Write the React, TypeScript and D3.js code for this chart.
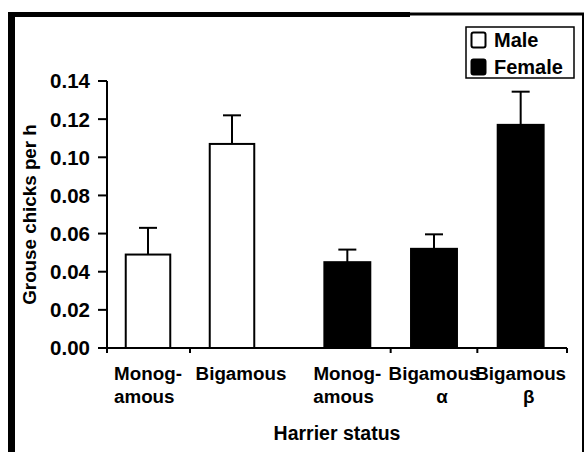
import React from 'react';
import * as d3 from 'd3';

const maleLabels: string[][] = [['Monog-', 'amous'], ['Bigamous']];
const maleValues = [0.049, 0.107];
const maleErrors = [0.014, 0.015];

const femaleLabels: string[][] = [['Monog-', 'amous'], ['Bigamous', 'α'], ['Bigamous', 'β']];
const femaleValues = [0.045, 0.052, 0.117];
const femaleErrors = [0.0066, 0.0076, 0.0174];

const yTicks = [0, 0.02, 0.04, 0.06, 0.08, 0.1, 0.12, 0.14];
const legendItems = ['Male', 'Female'];

const FONT = '"Liberation Sans", Arial, Helvetica, sans-serif';

export default function App() {
  const W = 585, H = 452;
  const axisLeft = 107, axisRight = 567, axisTop = 81, axisBottom = 348;
  const y = d3.scaleLinear().domain([0, 0.14]).range([axisBottom, axisTop]);

  const mkBand = (n: number, r: [number, number]) =>
    d3.scaleBand<number>().domain(d3.range(n)).range(r).paddingInner(0.47).paddingOuter(0.235);
  const xMale = mkBand(maleValues.length, [106, 274]);
  const xFemale = mkBand(femaleValues.length, [304, 564]);

  const groups = [
    { scale: xMale, values: maleValues, errors: maleErrors, labels: maleLabels, fill: '#fff' },
    { scale: xFemale, values: femaleValues, errors: femaleErrors, labels: femaleLabels, fill: '#000' },
  ];

  const xTicks: number[] = [axisLeft, axisRight];
  groups.forEach(g => {
    const step = g.scale.step();
    g.values.forEach((_, i) => {
      if (i > 0) xTicks.push((g.scale(i) as number) - step * 0.47 / 2);
    });
  });

  return (
    <svg width={W} height={H} style={{ position: 'absolute', left: 0, top: 0, background: '#fff' }}
      fontFamily={FONT} fontWeight="bold" fontSize={18.8}>
      <rect x={0} y={0} width={W} height={H} fill="#fff" />
      {/* frame */}
      <line x1={11.5} y1={12} x2={11.5} y2={H} stroke="#000" strokeWidth={7} />
      <line x1={8} y1={14.5} x2={410} y2={14.5} stroke="#000" strokeWidth={5} />
      <line x1={410} y1={14} x2={584} y2={14} stroke="#000" strokeWidth={3} />
      <line x1={583} y1={13} x2={583} y2={H} stroke="#000" strokeWidth={2} />

      {/* bars */}
      {groups.map((g, gi) => g.values.map((v, i) => {
        const x0 = g.scale(i) as number;
        const bw = g.scale.bandwidth();
        const cx = x0 + bw / 2;
        const top = y(v);
        const errTop = y(v + g.errors[i]);
        const single = g.labels[i].length === 1;
        return (
          <g key={`${gi}-${i}`}>
            <line x1={cx} x2={cx} y1={top} y2={errTop} stroke="#000" strokeWidth={2} />
            <line x1={cx - 9} x2={cx + 9} y1={errTop} y2={errTop} stroke="#000" strokeWidth={2} />
            <rect x={x0} y={top} width={bw} height={axisBottom - top} fill={g.fill} stroke="#000" strokeWidth={2} />
            {g.labels[i].map((t, li) => {
              const hyph = li === 1 && g.labels[i][0].endsWith('-');
              return (
                <text key={li}
                  x={hyph ? cx - 34 : li === 1 ? cx + 8 : single ? cx + 9 : cx}
                  y={380 + li * 22.5}
                  textAnchor={hyph ? 'start' : 'middle'}>{t}</text>
              );
            })}
          </g>
        );
      }))}

      {/* y axis */}
      <line x1={axisLeft} x2={axisLeft} y1={axisTop} y2={axisBottom} stroke="#000" strokeWidth={2} />
      {yTicks.map(t => (
        <g key={t}>
          <line x1={axisLeft - 9} x2={axisLeft} y1={y(t)} y2={y(t)} stroke="#000" strokeWidth={2} />
          <text x={90} y={y(t)} dy="0.36em" textAnchor="end" fontSize={20.5}>{d3.format('.2f')(t)}</text>
        </g>
      ))}
      {/* x axis */}
      <line x1={axisLeft} x2={axisRight} y1={axisBottom} y2={axisBottom} stroke="#000" strokeWidth={2} />
      {xTicks.map((t, i) => (
        <line key={i} x1={t} x2={t} y1={axisBottom} y2={axisBottom + 5} stroke="#000" strokeWidth={2} />
      ))}

      <text transform={`translate(36,${(axisTop + axisBottom) / 2}) rotate(-90)`} textAnchor="middle">Grouse chicks per h</text>
      <text x={337} y={440} textAnchor="middle" fontSize={19.5}>Harrier status</text>

      {/* legend */}
      <rect x={466} y={27} width={108} height={51} fill="#fff" stroke="#000" strokeWidth={1.5} />
      {legendItems.map((l, i) => (
        <g key={l}>
          <rect x={471.5} y={32.5 + i * 27} width={14} height={15} rx={2}
            fill={i === 0 ? '#fff' : '#000'} stroke="#000" strokeWidth={2} />
          <text x={494} y={47 + i * 27} fontSize={20}>{l}</text>
        </g>
      ))}
    </svg>
  );
}
